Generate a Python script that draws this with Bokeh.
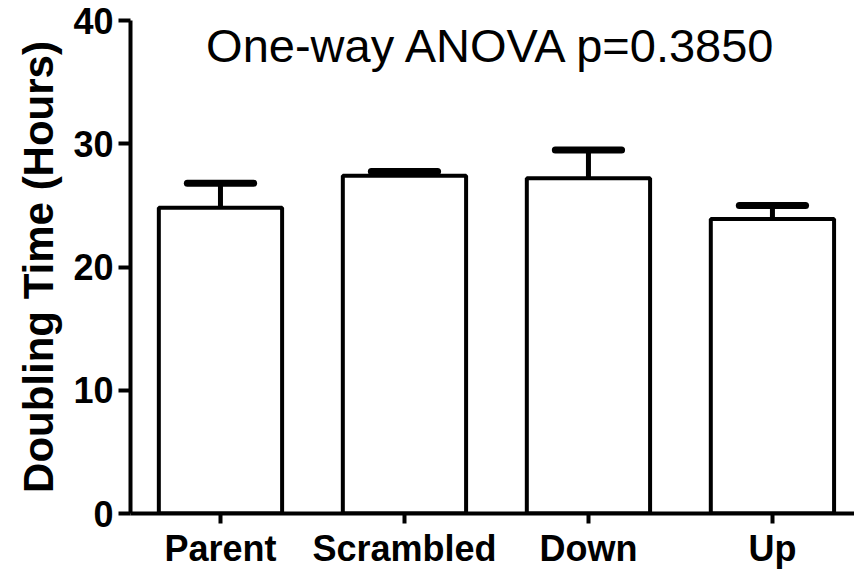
from bokeh.plotting import figure
from bokeh.models import Range1d, FixedTicker, Label
from bokeh.embed import file_html
from bokeh.resources import INLINE

# Doubling time per cell line (mean and upper SEM)
groups = ["Parent", "Scrambled", "Down", "Up"]
means = [24.8, 27.4, 27.2, 23.9]
sem = [2.0, 0.35, 2.3, 1.1]
y_ticks = [0, 10, 20, 30, 40]
title_text = "One-way ANOVA p=0.3850"

xs = list(range(1, len(groups) + 1))
tops = [m + s for m, s in zip(means, sem)]

p = figure(width=854, height=571, output_backend="svg", toolbar_location=None,
           x_range=Range1d(0.511, 4.446), y_range=Range1d(0, 40),
           min_border_left=130, min_border_right=0, min_border_top=20,
           min_border_bottom=55)
p.outline_line_color = None
p.xgrid.visible = False
p.ygrid.visible = False
p.background_fill_color = "white"

FONT = "Liberation Sans"

# bars
p.vbar(x=xs, top=means, bottom=0, width=0.67, fill_color="white",
       line_color="black", line_width=4)

# error bars: stem + cap
p.segment(x0=xs, y0=means, x1=xs, y1=tops, line_color="black", line_width=5)
p.segment(x0=[x - 0.18 for x in xs], y0=tops, x1=[x + 0.18 for x in xs], y1=tops,
          line_color="black", line_width=7, line_cap="round")

# axes
p.yaxis.ticker = FixedTicker(ticks=y_ticks)
p.yaxis.minor_tick_line_color = None
p.yaxis.major_tick_in = 0
p.yaxis.major_tick_out = 12
p.yaxis.major_tick_line_width = 4
p.yaxis.axis_line_width = 4
p.yaxis.major_label_text_font = FONT
p.yaxis.major_label_text_font_style = "bold"
p.yaxis.major_label_text_font_size = "36px"
p.yaxis.major_label_text_color = "black"
p.yaxis.major_label_standoff = 5
p.yaxis.axis_label = "Doubling Time (Hours)"
p.yaxis.axis_label_text_font = FONT
p.yaxis.axis_label_text_font_style = "bold"
p.yaxis.axis_label_text_font_size = "42px"
p.yaxis.axis_label_text_color = "black"
p.yaxis.axis_label_standoff = 8

p.xaxis.ticker = FixedTicker(ticks=xs)
p.xaxis.major_label_overrides = {x: g for x, g in zip(xs, groups)}
p.xaxis.minor_tick_line_color = None
p.xaxis.major_tick_in = 0
p.xaxis.major_tick_out = 10
p.xaxis.major_tick_line_width = 4
p.xaxis.axis_line_width = 4
p.xaxis.major_label_text_font = FONT
p.xaxis.major_label_text_font_style = "bold"
p.xaxis.major_label_text_font_size = "36px"
p.xaxis.major_label_text_color = "black"
p.xaxis.major_label_standoff = 4

p.add_layout(Label(x=2.478, y=38.0, text=title_text, text_align="center",
                   text_baseline="middle", text_font=FONT,
                   text_font_size="47px", text_color="black"))

open("out.html", "w").write(file_html(p, INLINE))
